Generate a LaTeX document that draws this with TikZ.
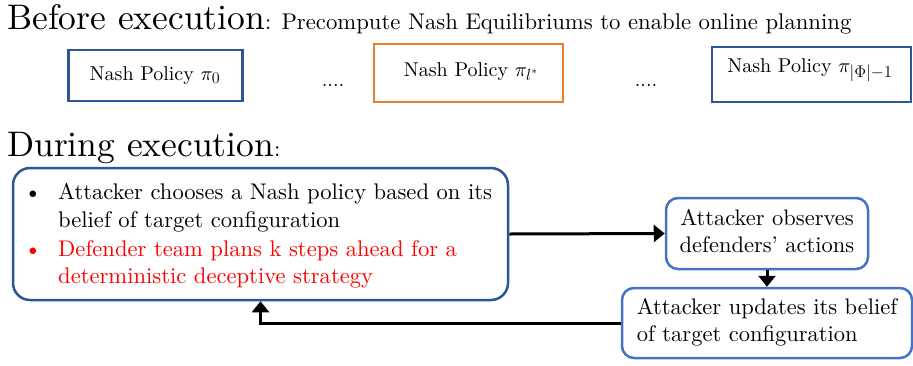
\RequirePackage{fix-cm}
\documentclass[tikz,border=0pt]{standalone}
\usepackage{fontspec}
% the 10pt design of Latin Modern, scaled to every size
\setmainfont{lmroman10-regular.otf}[BoldFont=lmroman10-bold.otf, ItalicFont=lmroman10-italic.otf]
\DeclareFontShape{OML}{cmm}{m}{it}{<->cmmi10}{}
\DeclareFontShape{OMS}{cmsy}{m}{n}{<->cmsy10}{}
\usetikzlibrary{arrows.meta}
\definecolor{navy}{HTML}{2F5597}
\definecolor{steel}{HTML}{4472C4}
\definecolor{tangerine}{HTML}{ED7D31}
\definecolor{alert}{HTML}{FF0000}
\newcommand{\headfont}{\fontsize{35.5}{40}\selectfont}
\newcommand{\subfont}{\fontsize{22.7}{27}\selectfont}
\newcommand{\listfont}{\fontsize{22.6}{28}\selectfont}
\newcommand{\bodyfont}{\fontsize{22.5}{27}\selectfont}
\newcommand{\policyfont}{\fontsize{20}{24}\selectfont}
\begin{document}
\begin{tikzpicture}[x=1pt,y=-1pt,
  policybox/.style={draw, line width=2.5pt, inner sep=0pt},
  policytext/.style={anchor=base, inner sep=0pt, font=\policyfont},
  flowbox/.style={draw=steel, line width=2.5pt, rounded corners=12pt, inner sep=0pt, font=\bodyfont},
  linetext/.style={anchor=base west, inner sep=0pt, font=\listfont},
  bullet/.style={anchor=base, inner sep=0pt, font=\listfont},
  flow/.style={line width=3pt, -{Triangle[width=17pt,length=11pt]}}]
\useasboundingbox (0,0) rectangle (913,365);

% headings
\node[anchor=base west, inner sep=0pt] (before) at (7,29)
  {\headfont Before execution\subfont: Precompute Nash Equilibriums to enable online planning};
\node[anchor=base west, inner sep=0pt] (during) at (7,156)
  {\headfont During execution\subfont:};

% precomputed Nash policies
\node[policybox, draw=navy, minimum width=174pt, minimum height=51pt] (p0) at (155.5,75.5) {};
\node[policytext] (p0t) at (155,80) {Nash Policy $\pi_{\scalebox{1.15}{$\scriptstyle 0$}}$};
\node[policytext] (dots1) at (333,86) {....};
\node[policybox, draw=tangerine, minimum width=189pt, minimum height=58pt] (pl) at (468.5,73) {};
\node[policytext] (plt) at (471,76) {Nash Policy $\pi_{\scalebox{1.15}{$\scriptstyle l^*$}}$};
\node[policytext] (dots2) at (646,86) {....};
\node[policybox, draw=navy, minimum width=199pt, minimum height=55pt] (pn) at (811.5,74.5) {};
\node[policytext] (pnt) at (810,72) {Nash Policy $\pi_{\scalebox{1.2}{$\scriptstyle|\Phi|-1$}}$};

% online loop
\node[draw=navy, line width=2.5pt, rounded corners=17pt, minimum width=495pt, minimum height=132pt] (plan) at (260.5,234) {};
\node[bullet] (b1) at (33,199) {\textbullet};
\node[linetext] (l1) at (58,199) {Attacker chooses a Nash policy based on its};
\node[linetext] (l2) at (58,227) {belief of target configuration};
\node[bullet, text=alert] (b2) at (33,256) {\textbullet};
\node[linetext, text=alert] (l3) at (58,256) {Defender team plans k steps ahead for a};
\node[linetext, text=alert] (l4) at (58,283) {deterministic deceptive strategy};

\node[flowbox, minimum width=202pt, minimum height=71pt] (obs) at (767,233.5)
  {\begin{tabular}{@{}c@{}}Attacker observes\\defenders' actions\end{tabular}};
\node[flowbox, minimum width=290pt, minimum height=70pt] (upd) at (767,323)
  {\begin{tabular}{@{}l@{}}Attacker updates its belief\\of target configuration\end{tabular}};

\draw[flow] (plan.east) -- (obs.west);
\draw[flow] (obs.south) -- (upd.north);
\draw[flow] (upd.west) -| (plan.south);
\end{tikzpicture}
\end{document}
